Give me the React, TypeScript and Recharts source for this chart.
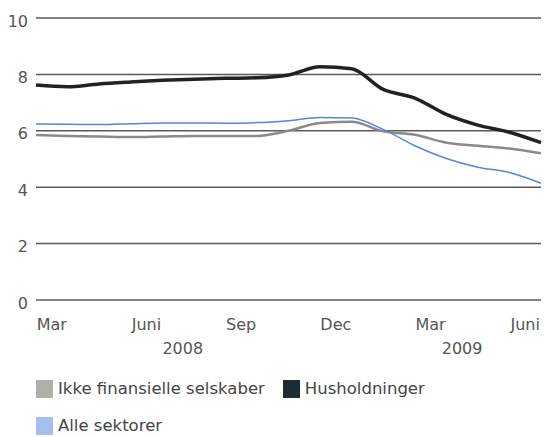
import React from "react";
import { CartesianGrid, Line, LineChart, XAxis, YAxis } from "recharts";

// months since 1 Mar 2008 (month-start positions)
const monthIndex = [0, 1, 2, 3, 4, 5, 6, 7, 8, 9, 10, 11, 12, 13, 14, 15, 16];

const ikkeFinansielle = [
  5.85, 5.82, 5.8, 5.78, 5.8, 5.82, 5.82, 5.82, 6.0, 6.28, 6.32, 5.98, 5.86,
  5.58, 5.47, 5.37, 5.2,
];
const husholdninger = [
  7.62, 7.56, 7.66, 7.73, 7.79, 7.83, 7.86, 7.88, 7.98, 8.27, 8.2, 7.47, 7.16,
  6.58, 6.2, 5.95, 5.58,
];
const alleSektorer = [
  6.24, 6.23, 6.22, 6.25, 6.28, 6.28, 6.27, 6.29, 6.36, 6.47, 6.45, 6.05, 5.47,
  5.02, 4.71, 4.52, 4.14,
];

const monthTicks = [0.5, 3.5, 6.5, 9.5, 12.5, 15.5];
const monthTickLabels = ["Mar", "Juni", "Sep", "Dec", "Mar", "Juni"];
const yearTicks = [4.65, 13.5];
const yearTickLabels = ["2008", "2009"];
const yTicks = [0, 2, 4, 6, 8, 10];

const seriesNames = ["Ikke finansielle selskaber", "Husholdninger", "Alle sektorer"];
const legendColors = ["#b0b0aa", "#1d2b33", "#a3bff0"];

const FONT = "'DejaVu Sans', sans-serif";
const TEXT = "#555";

const data = monthIndex.map((m, i) => ({
  m,
  ikke: ikkeFinansielle[i],
  hus: husholdninger[i],
  alle: alleSektorer[i],
}));

const YTick = ({ x, y, payload }: any) => (
  <text
    x={x}
    y={y + 3}
    textAnchor="end"
    dominantBaseline="central"
    fontSize={16}
    fontFamily={FONT}
    fill={TEXT}
  >
    {payload.value}
  </text>
);

const LegendItem = ({ color, label }: { color: string; label: string }) => (
  <span style={{ display: "inline-flex", alignItems: "center", marginRight: 18 }}>
    <span
      style={{
        display: "inline-block",
        width: 17,
        height: 18,
        background: color,
        marginRight: 5,
      }}
    />
    <span>{label}</span>
  </span>
);

export default function App() {
  return (
    <div style={{ position: "absolute", left: 0, top: 0, width: 544, height: 437 }}>
      <LineChart
        width={544}
        height={437}
        data={data}
        margin={{ top: 18, right: 3, left: 0, bottom: 77 }}
      >
        <CartesianGrid vertical={false} stroke="#5a5a5a" strokeWidth={1.5} />
        <XAxis
          dataKey="m"
          type="number"
          domain={[0, 16]}
          ticks={monthTicks}
          tickFormatter={(v: number) => monthTickLabels[monthTicks.indexOf(v)]}
          axisLine={false}
          tickLine={false}
          tickMargin={13}
          height={30}
          interval={0}
          tick={{ fontSize: 16, fontFamily: FONT, fill: TEXT }}
        />
        <XAxis
          xAxisId="year"
          dataKey="m"
          type="number"
          domain={[0, 16]}
          ticks={yearTicks}
          tickFormatter={(v: number) => yearTickLabels[yearTicks.indexOf(v)]}
          axisLine={false}
          tickLine={false}
          tickMargin={7}
          height={30}
          interval={0}
          tick={{ fontSize: 16, fontFamily: FONT, fill: TEXT }}
        />
        <YAxis
          domain={[0, 10]}
          ticks={yTicks}
          width={36}
          axisLine={false}
          tickLine={false}
          interval={0}
          tick={<YTick />}
        />
        <Line
          dataKey="ikke"
          type="monotone"
          stroke="#8a8a8a"
          strokeWidth={2.5}
          dot={false}
          isAnimationActive={false}
        />
        <Line
          dataKey="hus"
          type="monotone"
          stroke="#222"
          strokeWidth={3.5}
          dot={false}
          isAnimationActive={false}
        />
        <Line
          dataKey="alle"
          type="monotone"
          stroke="#5a84dc"
          strokeWidth={1.5}
          dot={false}
          isAnimationActive={false}
        />
      </LineChart>
      <div
        style={{
          position: "absolute",
          left: 36,
          top: 380,
          width: 500,
          fontFamily: FONT,
          fontSize: 16.5,
          color: "#444",
          lineHeight: "18px",
        }}
      >
        <div style={{ display: "flex", marginBottom: 19 }}>
          <LegendItem color={legendColors[0]} label={seriesNames[0]} />
          <LegendItem color={legendColors[1]} label={seriesNames[1]} />
        </div>
        <div style={{ display: "flex" }}>
          <LegendItem color={legendColors[2]} label={seriesNames[2]} />
        </div>
      </div>
    </div>
  );
}
